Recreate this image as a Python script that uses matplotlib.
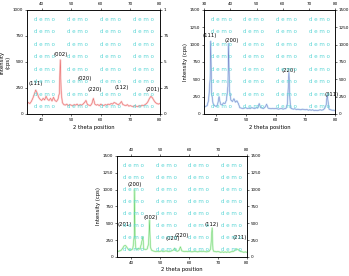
import numpy as np
from matplotlib import pyplot as plt


# XRD patterns (2 theta, counts).
x_a = [35, 35.5, 36, 36.5, 37, 37.5, 38, 38.5, 39, 39.5, 40, 40.5, 41, 41.5, 42, 42.5,
       43, 43.5, 44, 44.5, 45, 45.5, 46, 46.3, 46.6, 47, 47.5, 48, 48.5, 49, 49.5, 50,
       50.5, 51, 51.5, 52, 52.5, 53, 53.5, 54, 54.5, 55, 55.5, 56, 56.5, 57, 57.5, 58,
       58.5, 59, 59.5, 60, 60.5, 61, 61.5, 62, 62.5, 63, 63.5, 64, 64.5, 65, 65.5, 66,
       66.5, 67, 67.5, 68, 68.5, 69, 69.5, 70, 70.5, 71, 71.5, 72, 72.5, 73, 73.5, 74,
       74.5, 75, 75.5, 76, 76.5, 77, 77.5, 78, 78.5, 79, 79.5, 80]
y_a = [95, 110, 100, 120, 150, 190, 230, 200, 160, 140, 130, 150, 135, 170, 140, 130,
       150, 125, 160, 130, 120, 140, 200, 520, 220, 110, 90, 85, 95, 80, 90, 85,
       80, 90, 85, 95, 80, 90, 85, 95, 110, 130, 90, 85, 80, 100, 150, 95,
       85, 90, 80, 95, 85, 80, 90, 85, 95, 90, 100, 95, 110, 105, 95, 90,
       100, 120, 90, 85, 80, 90, 75, 80, 75, 70, 80, 75, 70, 80, 75, 85,
       80, 90, 100, 120, 150, 170, 155, 130, 110, 100, 95, 100]

x_b = [35, 35.5, 36, 36.5, 37, 37.5, 38, 38.2, 38.5, 39, 39.5, 40, 40.5, 41, 41.5, 42,
       42.5, 43, 43.5, 44, 44.2, 44.5, 45, 45.5, 46, 46.5, 47, 47.5, 48, 48.5, 49, 49.5,
       50, 50.5, 51, 51.5, 52, 52.5, 53, 53.5, 54, 54.5, 55, 55.5, 56, 56.5, 57, 57.5,
       58, 58.5, 59, 59.5, 60, 60.5, 61, 61.5, 62, 62.5, 63, 63.5, 64, 64.5, 64.8, 65,
       65.5, 66, 66.5, 67, 67.5, 68, 68.5, 69, 69.5, 70, 70.5, 71, 71.5, 72, 72.5, 73,
       73.5, 74, 74.5, 75, 75.5, 76, 76.5, 77, 77.4, 77.8, 78, 78.5, 79, 79.5, 80]
y_b = [95, 105, 100, 110, 120, 200, 500, 1050, 300, 150, 120, 110, 130, 250, 140, 130,
       160, 150, 200, 400, 1020, 350, 200, 180, 220, 170, 190, 150, 90, 85, 80, 85,
       90, 80, 85, 80, 90, 85, 80, 90, 85, 150, 90, 85, 80, 100, 140, 85,
       80, 75, 80, 75, 80, 75, 70, 75, 80, 70, 75, 80, 150, 600, 250, 90,
       75, 70, 75, 65, 70, 65, 60, 70, 65, 60, 65, 55, 60, 55, 60, 50,
       55, 50, 55, 60, 55, 60, 80, 130, 280, 120, 70, 60, 55, 55, 50]

x_c = [35, 35.5, 36, 36.5, 37, 37.5, 38, 38.5, 39, 39.5, 40, 40.5, 41, 41.1, 41.3, 41.6,
       42, 42.5, 43, 43.5, 44, 44.3, 45, 45.5, 46, 46.3, 46.6, 47, 47.5, 48, 48.5, 49,
       49.5, 50, 50.5, 51, 51.5, 52, 52.5, 53, 53.5, 54, 54.5, 55, 55.5, 56, 56.5, 57,
       57.5, 58, 58.5, 59, 59.5, 60, 60.5, 61, 61.5, 62, 62.5, 63, 63.5, 64, 64.5, 65,
       65.5, 66, 66.5, 67, 67.5, 68, 68.3, 68.5, 69, 69.5, 70, 70.5, 71, 71.5, 72, 72.5,
       73, 73.5, 74, 74.5, 75, 75.5, 76, 76.5, 77, 77.5, 78, 78.5, 79, 79.5, 80]
y_c = [80, 85, 90, 100, 130, 165, 170, 140, 110, 100, 105, 120, 300, 1000, 250, 120,
       110, 130, 115, 200, 300, 120, 110, 120, 200, 550, 150, 100, 90, 85, 80, 85,
       80, 85, 90, 80, 85, 90, 85, 80, 85, 90, 100, 130, 90, 85, 95, 150,
       90, 85, 80, 85, 80, 85, 80, 75, 80, 85, 80, 75, 80, 85, 80, 85,
       80, 75, 80, 85, 120, 430, 110, 85, 80, 75, 80, 75, 70, 75, 70, 75,
       70, 75, 70, 75, 80, 85, 100, 120, 110, 90, 80, 75, 70, 75, 70]

# Peak labels (text, 2 theta, y of label).
labels_a = [('(111)', 38.0, 265), ('(002)', 46.5, 545), ('(020)', 54.5, 320),
            ('(220)', 58.0, 215), ('(112)', 67.0, 230), ('(201)', 77.5, 215)]
labels_b = [('(111)', 38.0, 1090), ('(200)', 45.2, 1020), ('(220)', 64.5, 590),
            ('(311)', 79.0, 245)]
labels_c = [('(201)', 37.8, 440), ('(200)', 41.2, 1040), ('(002)', 46.6, 550),
            ('(020)', 54.5, 230), ('(220)', 57.6, 280), ('(112)', 68.0, 440),
            ('(211)', 77.5, 250)]

tick_fs = 3.0
lab_fs = 3.8


def panel(rect, x, y, c_line, c_band, labels, ymax, xlim, top_lim, right_labels, ylabel):
    ax = fig.add_axes(rect)
    ax.plot(x, y, c=c_band, lw=1.4, alpha=0.45)
    ax.plot(x, y, c=c_line, lw=0.3, alpha=0.8)
    ax.set_xlim(xlim)
    ax.set_ylim(0, ymax)
    ax.set_xticks([40, 50, 60, 70, 80])
    ax.set_yticks(np.arange(0, ymax + 1, 250))
    ax.set_xlabel('2 theta position', fontsize=lab_fs, labelpad=2)
    ax.set_ylabel(ylabel, fontsize=lab_fs, labelpad=1.5)
    ax.tick_params(labelsize=tick_fs, length=1.5, width=0.4, pad=1.2)
    for t, xx, yy in labels:
        ax.text(xx, yy, t, fontsize=lab_fs, ha='center', va='bottom')

    # watermark grid
    for fy in np.linspace(0.91, 0.07, 8):
        for fx in [0.13, 0.38, 0.63, 0.88]:
            ax.text(fx, fy, 'd e m o', color='#5cd6d6', fontsize=4.0,
                    ha='center', va='center', transform=ax.transAxes)

    top = ax.twiny()
    top.set_xlim(top_lim)
    top.set_xticks(np.arange(np.ceil(top_lim[0] / 10) * 10, top_lim[1] + 1, 10))
    top.tick_params(labelsize=tick_fs, length=1.5, width=0.4, pad=1.2)

    right = ax.twinx()
    right.set_ylim(0, ymax)
    right.set_yticks(np.arange(0, ymax + 1, 250))
    if right_labels is not None:
        right.set_yticklabels(right_labels)
    right.tick_params(labelsize=tick_fs, length=1.5, width=0.4, pad=1.2)

    for a in (ax, top, right):
        for s in a.spines.values():
            s.set_linewidth(0.4)
    return ax


fig = plt.figure(dpi=100, figsize=(3.49, 2.76))

panel([0.077, 0.587, 0.381, 0.377], x_a, y_a, '#e03030', '#f4a0a0', labels_a,
      1000, (35, 80), (35, 80), ['0', '25', '5', '75', '1'], 'Intensity\n(cps)')
panel([0.585, 0.587, 0.375, 0.377], x_b, y_b, '#5050b0', '#90c8f0', labels_b,
      1500, (36, 80), (30, 80), None, 'Intensity (cps)')
panel([0.335, 0.069, 0.372, 0.366], x_c, y_c, '#40c040', '#a0f0a0', labels_c,
      1500, (35, 80), (35, 80), None, 'Intensity (cps)')

plt.savefig('out.png', dpi=100)
